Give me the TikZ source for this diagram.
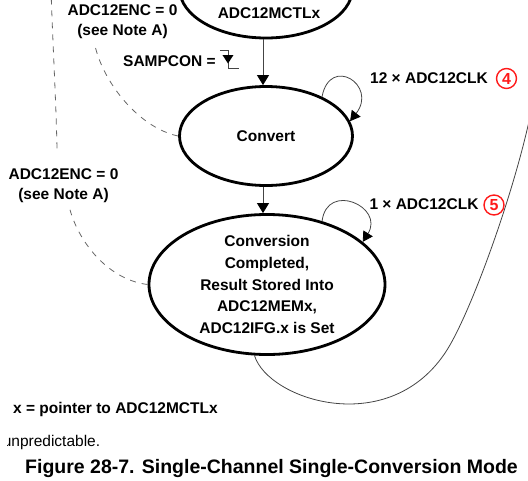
\documentclass[tikz,border=0pt]{standalone}
\usepackage{fontspec}
\setmainfont{Liberation Sans}
\usepackage{xcolor}
\usetikzlibrary{arrows.meta,shapes.geometric}
\definecolor{linegray}{HTML}{444444}
\definecolor{dashgray}{HTML}{666666}
\definecolor{markred}{HTML}{FF1A1A}
\newcommand{\lblfont}{\fontsize{15.5}{20}\selectfont\bfseries}

\begin{document}
\begin{tikzpicture}[x=1pt, y=-1pt,
  state/.style={draw, ellipse, line width=2.8pt, inner sep=0pt, align=center, font=\fontsize{15.5}{21.8}\selectfont\bfseries},
  lbl/.style={font=\lblfont, inner sep=0pt, align=center},
  arrow/.style={-{Triangle[length=10pt,width=12pt,color=black]}, line width=0.8pt, draw=linegray},
  loopline/.style={-{Triangle[length=10pt,width=11pt,color=black]}, line width=0.8pt, draw=linegray},
  backline/.style={line width=0.8pt, draw=linegray},
  dashline/.style={line width=0.8pt, draw=dashgray, dash pattern=on 6pt off 6pt},
  circnum/.style={circle, draw=markred, text=markred, line width=1.4pt, minimum size=20pt, inner sep=0pt, font=\fontsize{16}{16}\selectfont\bfseries}
]
\useasboundingbox (0,0) rectangle (528,480);

\node[state, minimum width=173pt, minimum height=99pt] (mctl) at (266,-11.5) {};
\node[lbl, anchor=base] (mctltxt) at (269,18.3) {ADC12MCTLx};
\node[state, minimum width=173pt, minimum height=99pt] (conv) at (266,136) {Convert};
\node[state, minimum width=236pt, minimum height=140pt] (done) at (267,284.5) {Conversion\\Completed,\\Result Stored Into\\ADC12MEMx,\\ADC12IFG.x is Set};

\node[lbl] (enc1) at (122.5,21.6) {ADC12ENC = 0\\(see Note A)};
\node[lbl] (enc2) at (63.5,185.6) {ADC12ENC = 0\\(see Note A)};
\node[lbl, anchor=base] (samp) at (169.5,66) {SAMPCON =};
\node[lbl, anchor=base] (clk12) at (429,83.5) {12 × ADC12CLK};
\node[lbl, anchor=base] (clk1) at (424,209.5) {1 × ADC12CLK};
\node[circnum] (n4) at (506.5,78.5) {4};
\node[circnum] (n5) at (494,205) {5};

\draw[backline] ([shift={(4,-16)}]samp.base east) -- ++(8,0) -- ++(0,18) -- ++(11,0);
\fill ([shift={(6.5,-11)}]samp.base east) -- ++(11,0) -- ++(-5.5,8.5) -- cycle;

\draw[arrow] ([xshift=-3pt]mctl.south) -- ([xshift=-3pt]conv.north);
\draw[arrow] ([xshift=-3pt]conv.south) -- ([xshift=-4pt]done.north);
\draw[loopline] (conv.35) .. controls +(8,-42) and +(28,-36) .. (conv.10);
\draw[loopline] (done.49) .. controls +(5,-40) and +(22,-35) .. (done.24);

\coordinate (offright) at (531,112);
\draw[backline] (done.260) .. controls (268,400) and (390,440) .. (447,350) .. controls (472,310) and (515,190) .. (offright);

\coordinate (offtop) at (51,-10);
\draw[dashline] (conv.west) .. controls (140,128) and (105,85) .. ([shift={(-27,9)}]enc1.south);
\draw[dashline] (done.west) .. controls (110,280) and (80,245) .. ([shift={(6.5,7)}]enc2.south);
\draw[dashline] ([shift={(-6.5,-20)}]enc2.north) .. controls (56,100) and (53,50) .. (offtop);

\node[lbl, anchor=base west] (ptr) at (13,413) {x = pointer to ADC12MCTLx};
\begin{scope}
  \clip (7.5,425) rectangle (130,455);
  \node[font=\fontsize{15.5}{20}\selectfont, inner sep=0pt, anchor=base west] (unpred) at (2.6,446) {unpredictable.};
\end{scope}
\node[font=\fontsize{19.5}{24}\selectfont\bfseries, inner sep=0pt, anchor=base west] (title) at (25,473) {Figure 28-7. Single-Channel Single-Conversion Mode};
\end{tikzpicture}
\end{document}
